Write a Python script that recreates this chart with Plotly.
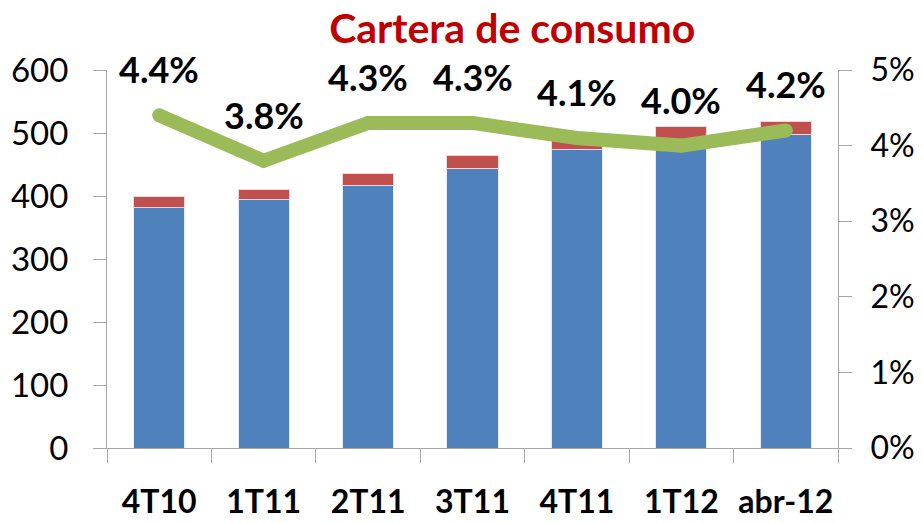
import plotly.graph_objects as go

categories = ["4T10", "1T11", "2T11", "3T11", "4T11", "1T12", "abr-12"]
blue_vals = [382, 395, 416, 444, 474, 490, 498]
red_vals = [17, 16, 19, 21, 16, 20, 21]
pct_vals = [0.044, 0.038, 0.043, 0.043, 0.041, 0.040, 0.042]
pct_labels = ["4.4%", "3.8%", "4.3%", "4.3%", "4.1%", "4.0%", "4.2%"]
title_text = "Cartera de consumo"

FONT = "Lato"

fig = go.Figure()
fig.add_trace(go.Bar(x=categories, y=blue_vals, marker=dict(color="#4F81BD", line=dict(color="#E6ECF5", width=1)), yaxis="y"))
fig.add_trace(go.Bar(x=categories, y=red_vals, marker=dict(color="#C0504D", line=dict(color="#F0D8D8", width=1)), yaxis="y"))
fig.add_trace(go.Scatter(x=categories, y=pct_vals, mode="lines+markers", yaxis="y2",
                         line=dict(color="#9BBB59", width=14),
                         marker=dict(color="#9BBB59", size=14, line=dict(width=0)),
                         cliponaxis=False))

for c, v, t in zip(categories, pct_vals, pct_labels):
    fig.add_annotation(x=c, y=v, yref="y2", text="<b>%s</b>" % t, showarrow=False,
                       yshift=46, font=dict(family=FONT, size=36, color="#000000"))

fig.update_layout(
    width=923, height=523,
    margin=dict(l=107, r=85, t=70, b=75),
    paper_bgcolor="white", plot_bgcolor="white",
    barmode="stack", bargap=0.51, showlegend=False,
    title=dict(text="<b>%s</b>" % title_text, x=0.555, xanchor="center", y=0.945, yanchor="middle",
               font=dict(family=FONT, size=41, color="#C00000")),
    xaxis=dict(showline=True, linecolor="#A6A6A6", linewidth=1, ticks="outside", tickson="boundaries",
               ticklen=14, tickcolor="#A6A6A6", tickfont=dict(family=FONT, size=32, color="#000000"),
               tickprefix="<b>", ticksuffix="</b>", ticklabelstandoff=26, tickangle=0, automargin=False),
    yaxis=dict(range=[0, 600], dtick=100, showgrid=False, showline=True, linecolor="#A6A6A6",
               ticks="outside", ticklen=13, tickcolor="#A6A6A6", zeroline=False, automargin=False,
               tickfont=dict(family=FONT, size=33, color="#000000"), ticklabelstandoff=18),
    yaxis2=dict(range=[0, 0.05], dtick=0.01, tickformat=".0%", overlaying="y", side="right",
                showgrid=False, showline=True, linecolor="#A6A6A6", ticks="outside", ticklen=13,
                tickcolor="#A6A6A6", zeroline=False, automargin=False,
                tickfont=dict(family=FONT, size=32, color="#000000"), ticklabelstandoff=12),
)

fig.write_html("out.html", config={"displayModeBar": False},
               post_script="document.body.style.margin='0';")
